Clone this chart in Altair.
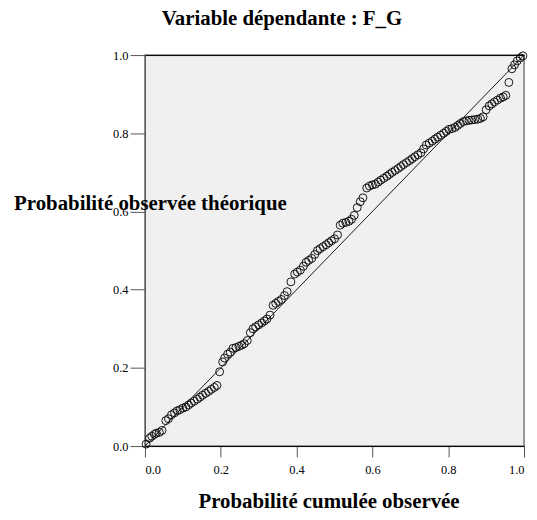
import altair as alt
import pandas as pd

obs = [0.003,
       0.012, 0.018, 0.025, 0.030, 0.038, 0.045,
       0.055, 0.062, 0.070, 0.078, 0.085, 0.092, 0.100, 0.108, 0.115, 0.122, 0.130, 0.138,
       0.145, 0.152, 0.160, 0.168, 0.175, 0.183, 0.190,
       0.197,
       0.205, 0.210, 0.218, 0.225, 0.232, 0.240, 0.248, 0.255, 0.262, 0.270,
       0.278, 0.285, 0.292, 0.300, 0.308, 0.315, 0.322, 0.330,
       0.338, 0.345, 0.352, 0.360, 0.368, 0.375,
       0.385,
       0.395, 0.402, 0.410, 0.418, 0.425, 0.432, 0.440, 0.448, 0.455, 0.462, 0.470, 0.478,
       0.485, 0.492, 0.500, 0.508,
       0.515, 0.522, 0.530, 0.538, 0.545, 0.552,
       0.560, 0.568, 0.575,
       0.585, 0.592, 0.600, 0.608, 0.615, 0.622, 0.630, 0.638, 0.645, 0.652, 0.660, 0.668,
       0.675, 0.682, 0.690, 0.698, 0.705, 0.712, 0.720, 0.728, 0.735, 0.742, 0.750, 0.758,
       0.765, 0.772, 0.780, 0.788, 0.795, 0.802, 0.810, 0.818, 0.825, 0.832, 0.840, 0.848,
       0.855, 0.862, 0.870, 0.878, 0.885, 0.892,
       0.900, 0.908, 0.915, 0.922, 0.930, 0.938, 0.945, 0.952,
       0.960, 0.968, 0.975, 0.982, 0.990, 0.997]

exp = [0.005,
       0.020, 0.025, 0.030, 0.033, 0.035, 0.040,
       0.065, 0.070, 0.080, 0.085, 0.090, 0.093, 0.097, 0.100, 0.105, 0.110, 0.115, 0.120,
       0.125, 0.130, 0.135, 0.140, 0.145, 0.150, 0.155,
       0.190,
       0.215, 0.225, 0.235, 0.240, 0.250, 0.252, 0.255, 0.258, 0.262, 0.270,
       0.290, 0.300, 0.305, 0.310, 0.315, 0.320, 0.325, 0.335,
       0.360, 0.365, 0.370, 0.375, 0.385, 0.395,
       0.420,
       0.440, 0.445, 0.450, 0.460, 0.470, 0.475, 0.480, 0.490, 0.500, 0.505, 0.510, 0.515,
       0.520, 0.525, 0.530, 0.540,
       0.565, 0.570, 0.572, 0.575, 0.580, 0.590,
       0.610, 0.625, 0.635,
       0.660, 0.665, 0.668, 0.670, 0.675, 0.680, 0.685, 0.690, 0.695, 0.700, 0.705, 0.710,
       0.715, 0.720, 0.725, 0.730, 0.735, 0.740, 0.745, 0.750, 0.760, 0.770, 0.775, 0.780,
       0.785, 0.790, 0.795, 0.800, 0.805, 0.810, 0.812, 0.815, 0.820, 0.825, 0.830, 0.832,
       0.833, 0.834, 0.835, 0.836, 0.838, 0.842,
       0.860, 0.870, 0.875, 0.880, 0.885, 0.890, 0.893, 0.897,
       0.930, 0.965, 0.975, 0.985, 0.993, 0.998]

diag = [0.0, 1.0]
tick_values = [0.0, 0.2, 0.4, 0.6, 0.8, 1.0]

FONT = "Liberation Serif"

df = pd.DataFrame({"obs": obs, "exp": exp})
ddf = pd.DataFrame({"a": diag})

xscale = alt.Scale(domain=[0, 1], nice=False, zero=False)
yscale = alt.Scale(domain=[0, 1], nice=False, zero=False)

x_axis = alt.Axis(
    title="Probabilité cumulée observée", values=tick_values, format=".1f",
    grid=False, labelPadding=7, tickSize=11, tickColor="#555", domainColor="black",
    titleX=185, titleY=61.5, titleAlign="center", titleBaseline="alphabetic",
)
y_axis = alt.Axis(
    title="Probabilité observée théorique", values=tick_values, format=".1f",
    grid=False, labelPadding=2, tickSize=15, tickColor="#555", domainColor="#555",
    titleAngle=0, titleX=5, titleY=156, titleAlign="center", titleBaseline="alphabetic",
)

line = alt.Chart(ddf).mark_line(color="black", strokeWidth=0.9).encode(
    x=alt.X("a:Q", scale=xscale, axis=x_axis),
    y=alt.Y("a:Q", scale=yscale, axis=y_axis),
)

pts = alt.Chart(df).mark_point(
    shape="circle", filled=False, color="black", size=64, strokeWidth=0.9, opacity=1
).encode(
    x=alt.X("obs:Q", scale=xscale, axis=None),
    y=alt.Y("exp:Q", scale=yscale),
)

top = alt.Chart(ddf).mark_point(opacity=0).encode(
    x=alt.X("a:Q", scale=xscale,
            axis=alt.Axis(orient="top", labels=False, ticks=False, title=None,
                          grid=False, domainColor="black", values=tick_values)),
)

chart = alt.layer(line, pts, top).resolve_axis(x="independent").properties(
    width=382,
    height=394,
    background="white",
    title=alt.TitleParams(
        "Variable dépendante : F_G", font=FONT, fontSize=21, fontWeight="bold",
        color="black", anchor="start", frame="group", dx=138, align="center",
        baseline="alphabetic", offset=3,
    ),
    autosize=alt.AutoSizeParams(type="none"),
    padding={"left": 138, "top": 45.5, "right": 5, "bottom": 64},
).configure_view(
    fill="#f0f0f0", stroke="#777", strokeWidth=1.5
).configure_axis(
    labelFont=FONT, labelFontSize=12.5, labelColor="black",
    titleFont=FONT, titleFontSize=21, titleFontWeight="bold", titleColor="black",
)

chart.save("out.html", embed_options={"renderer": "svg", "actions": False})
